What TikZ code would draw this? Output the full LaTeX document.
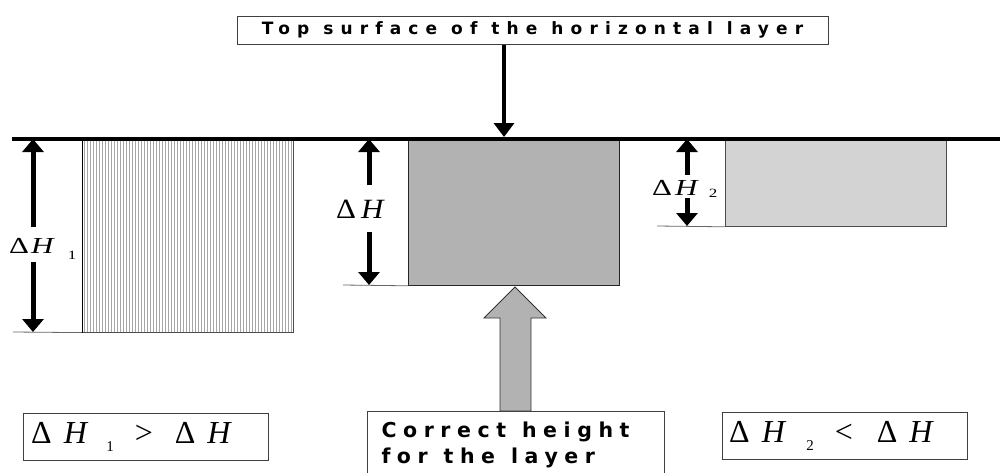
\documentclass[tikz,border=0pt]{standalone}
\usepackage{fontspec}
\usepackage{graphicx}
\setmainfont{Liberation Serif}
\newfontfamily\titlefont[LetterSpace=42]{DejaVu Sans}
\newfontfamily\corrfont[LetterSpace=32]{DejaVu Sans}
\usetikzlibrary{arrows.meta,patterns.meta,calc}
\newcommand\myDH[1]{Δ\hspace{#1}\textit{H}}
\newcommand\tsp{\hspace{14pt}}
\newcommand\csp{\hspace{16pt}}
\begin{document}
\begin{tikzpicture}[x=1pt,y=-1pt,
  frame/.style={draw=black!75,line width=1pt},
  dimarrow/.style={line width=5pt,-{Triangle[width=21pt,length=13pt]}},
  downarrow/.style={line width=4.7pt,-{Triangle[width=20pt,length=14pt]}},
  surface/.style={line width=4.5pt},
  baseline/.style={line width=0.8pt,black!60},
  layerbox/.style={draw=black!70,line width=0.8pt,anchor=north west,inner sep=0pt},
  bigarrow/.style={fill=black!30,draw=black!80,line width=0.8pt,line join=miter},
  labeltext/.style={anchor=base west,inner sep=0pt,font=\fontsize{31}{31}\selectfont},
  formula/.style={anchor=base west,inner sep=0pt,font=\fontsize{32}{32}\selectfont}
]
\useasboundingbox (0,0) rectangle (1000,472);
\clip (0,0) rectangle (1000,472);

% layers
\node (b1) [layerbox,minimum width=211pt,minimum height=193pt,
  pattern={Lines[angle=90,distance=3pt,line width=0.6pt]},pattern color=black!35] at (82,139) {};
\draw[line width=0.9pt] (b1.north west) -- (b1.south west);
\node (b2) [layerbox,draw=black!85,fill=black!30,minimum width=211pt,minimum height=146pt] at (408,139) {};
\node (b3) [layerbox,minimum width=221pt,minimum height=87pt,
  pattern={Dots[distance=2pt,radius=0.55pt]},pattern color=black!75] at (725,139) {};

% bottom reference lines
\coordinate (g1) at (13,332);
\coordinate (g2) at (343,285);
\coordinate (g3) at (657,226);
\draw[baseline] (g1) -- (b1.south west);
\draw[baseline] (g2) -- (b2.south west);
\draw[baseline] (g3) -- (b3.south west);

% surface line
\coordinate (sL) at (12,139);
\coordinate (sR) at (1000,139);
\draw[surface] (sL) -- (sR);

% title and its arrow
\node (title) [frame,minimum width=591pt,minimum height=28pt,inner sep=0pt,
  font=\titlefont\bfseries\fontsize{17}{20}\selectfont] at (532.5,30)
  {Top\tsp surface\tsp of\tsp the\tsp horizontal\tsp layer};
\coordinate (hit) at (504,137);
\draw[downarrow] (title.south -| hit) -- (hit);

% dimension arrows
\coordinate (a1t) at (33,227);
\coordinate (a1b) at (33,262);
\draw[dimarrow] (a1t) -- (a1t |- sL);
\draw[dimarrow] (a1b) -- (a1b |- g1);
\coordinate (a2t) at (369,185);
\coordinate (a2b) at (369,232);
\draw[dimarrow] (a2t) -- (a2t |- sL);
\draw[dimarrow] (a2b) -- (a2b |- g2);
\coordinate (a3t) at (687,175);
\coordinate (a3b) at (687,198);
\draw[dimarrow] (a3t) -- (a3t |- sL);
\draw[dimarrow] (a3b) -- (a3b |- g3);

\node (l1) [labeltext] at (9,253) {\scalebox{1}[0.74]{\myDH{2pt}\hspace{13pt}\raisebox{-9pt}{\fontsize{17}{17}\selectfont 1}}};
\node (l2) [labeltext] at (336,218) {\scalebox{1}[0.9]{\myDH{5pt}}};
\node (l3) [labeltext] at (652,195) {\scalebox{1}[0.74]{\myDH{3pt}\hspace{10pt}\raisebox{-4pt}{\fontsize{17}{17}\selectfont 2}}};

% correct height box and big arrow
\node (corr) [frame,anchor=north west,text width=269pt,inner xsep=14pt,inner ysep=10pt,align=left,
  font=\corrfont\bfseries\fontsize{20.5}{26}\selectfont] at (367,411) {Correct\csp height\\for\csp the\csp layer};
\coordinate (tip) at (515,287);
\draw[bigarrow] (tip) -- ++(31,31) -- ++(-15,0) -- (531,0 |- corr.north) -- (500,0 |- corr.north)
  -- (500,318) -- ++(-16,0) -- cycle;

% formula boxes
\node (f1) [frame,anchor=north west,minimum width=245pt,minimum height=47pt,inner sep=0pt] at (23,413) {};
\node (t1) [formula] at (31,443) {\myDH{12pt}\hspace{18pt}\raisebox{-8pt}{\fontsize{15}{15}\selectfont 1}\hspace{21pt}>\hspace{22pt}\myDH{12pt}};
\node (f2) [frame,anchor=north west,minimum width=245pt,minimum height=47pt,inner sep=0pt] at (722,412) {};
\node (t2) [formula] at (729,442) {\myDH{12pt}\hspace{20pt}\raisebox{-8pt}{\fontsize{15}{15}\selectfont 2}\hspace{21pt}<\hspace{24pt}\myDH{12pt}};
\end{tikzpicture}
\end{document}
